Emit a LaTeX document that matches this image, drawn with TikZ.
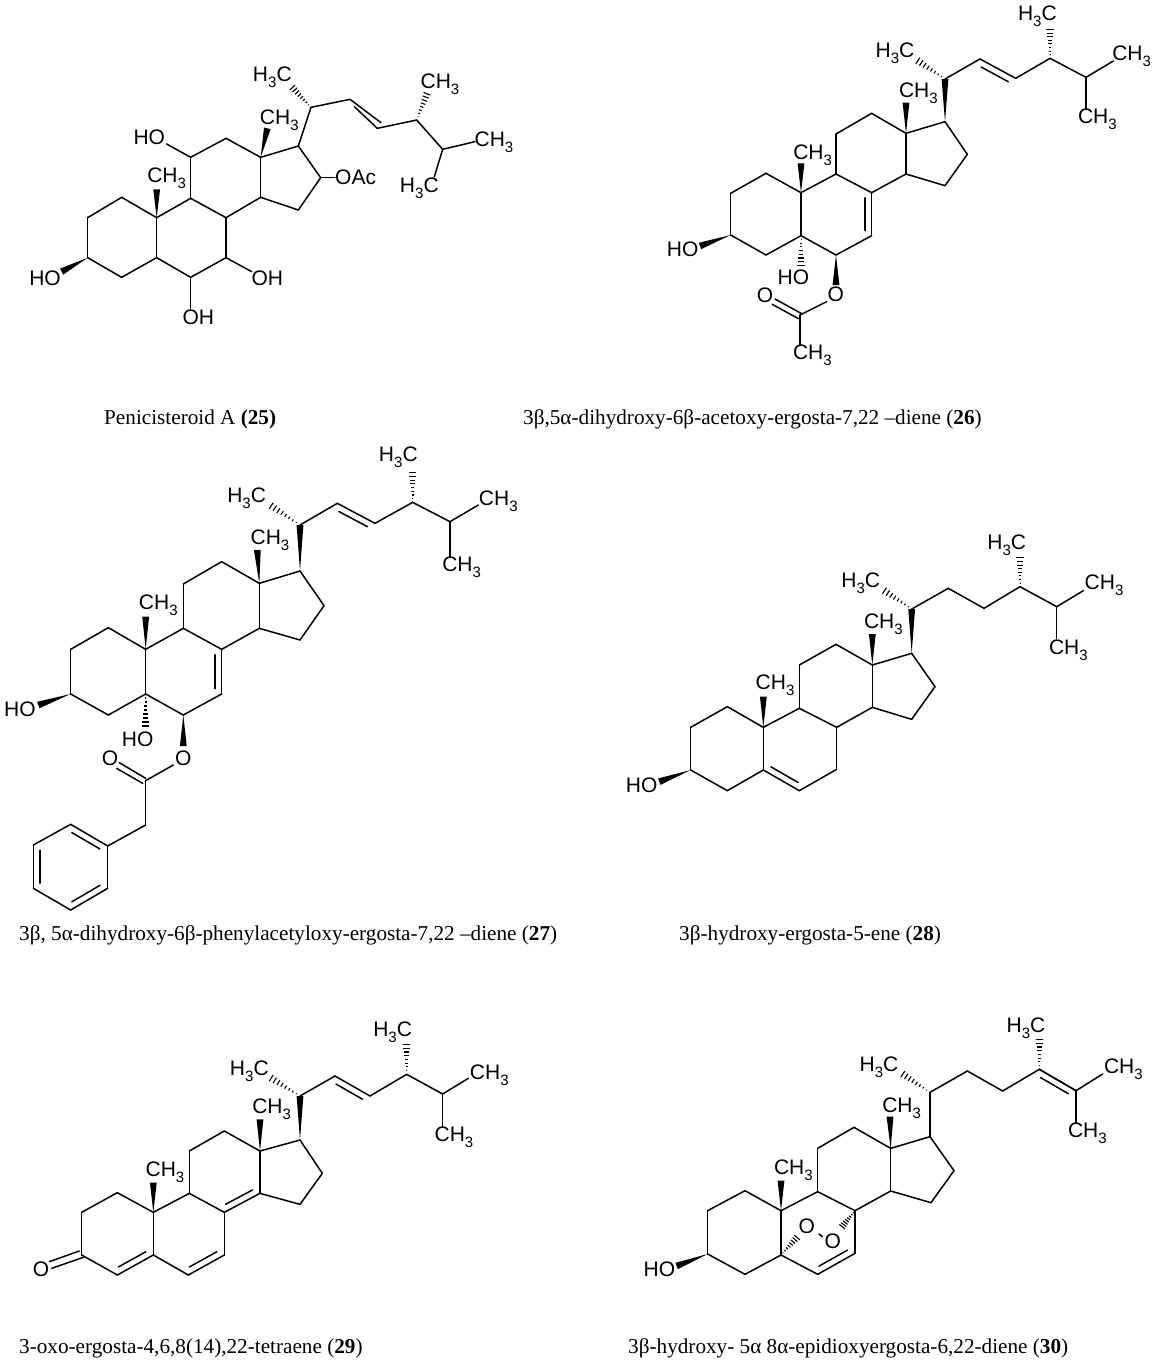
\documentclass[tikz,border=0pt]{standalone}
\usepackage{fontspec}
\setmainfont{Liberation Serif}
\newfontfamily\chemfont{Liberation Sans}
\usetikzlibrary{calc}
\newcommand\subthree{\raisebox{-.28em}{\fontsize{15}{15}\selectfont 3}}
\newcommand\cha{CH\subthree}
\newcommand\hac{H\subthree C}
\tikzset{
  bond/.style={draw=black,line width=1.5pt,line cap=round,line join=round},
  hashstroke/.style={draw=black,line width=1.1pt},
  chemlab/.style={inner sep=0pt,font=\chemfont\fontsize{21}{21}\selectfont,text=black},
  caption/.style={inner sep=0pt,anchor=west,font=\fontsize{21.2}{23}\selectfont,text=black},
  mol/.style={x=.33333pt,y=-.33333pt}
}
% atoms: name/x/y
\newcommand\atoms[1]{\foreach \n/\x/\y in {#1}{\coordinate (\n) at (\x,\y);}}
\newcommand\bonds[1]{\foreach \a/\b in {#1}{\draw[bond] (\a) -- (\b);}}
\newcommand\lab[4]{\node[chemlab] (#1) at (#2,#3) {#4};}
\newcommand\wedgeb[2]{\fill[black] (#1) -- ($(#2)!3.4pt!90:(#1)$) -- ($(#2)!3.4pt!-90:(#1)$) -- cycle;}
\newcommand\hashb[2]{\foreach \t in {.12,.24,.36,.48,.60,.72,.84,.96}{%
  \pgfmathsetmacro\w{\t*3.8}%
  \draw[hashstroke] ($(#1)!\t!(#2)!\w pt!90:(#2)$) -- ($(#1)!\t!(#2)!\w pt!-90:(#2)$);}}
% inner line of a double bond: a, b, side (90 = left of a->b)
\newcommand\dblin[3]{\draw[bond] ($(#1)!.12!(#2)!6.5pt!#3:(#2)$) -- ($(#1)!.88!(#2)!6.5pt!#3:(#2)$);}
\newcommand\skeleton{\bonds{c1/c2,c2/c3,c3/c4,c4/c5,c5/c10,c10/c1,c5/c6,c6/c7,c7/c8,c8/c9,c9/c10,c9/c11,c11/c12,c12/c13,c13/c14,c14/c8,c13/c17,c17/c16,c16/c15,c15/c14}
  \wedgeb{c10}{c19}\wedgeb{c13}{c18}}
\newcommand\tail{\bonds{c20/c22,c24/c25,c25/c26,c25/c27}\hashb{c20}{c21}\hashb{c24}{c28}}
\begin{document}
\begin{tikzpicture}[x=1pt,y=-1pt]
\useasboundingbox (0,0) rectangle (1158,1368);
\fill[white] (0,0) rectangle (1158,1368);

% ---------- 25
\begin{scope}[shift={(20,60)},mol,name prefix=a-]
\atoms{c2/203/473,c1/305/412,c10/410/473,c5/410/593,c4/305/652,c3/203/593,
 c9/512/415,c8/618/473,c7/618/593,c6/512/652,
 c11/512/292,c12/618/235,c13/722/292,c14/722/412,
 c17/835/258,c16/902/353,c15/835/450,
 c19/410/388,c18/742/205,c20/873/142,c21/815/80,c22/990/118,c23/1072/205,c24/1190/180,c28/1222/98,c25/1268/268,c26/1365/245,c27/1243/350,
 d1/1083/188,d2/1003/140,
 o3/125/635,o11/440/252,o6/512/745,o7/695/635,o16/945/353}
\skeleton
\bonds{c17/c20,c20/c22,c22/d1,d2/c23,c23/c24,c24/c25,c25/c26,c25/c27,c11/o11,c6/o6,c7/o7,c16/o16}
\hashb{c20}{c21}\hashb{c24}{c28}\wedgeb{c3}{o3}
\lab{l1}{440}{355}{\cha}\lab{l2}{778}{182}{\cha}\lab{l3}{757}{52}{\hac}\lab{l4}{1260}{72}{\cha}
\lab{l5}{1422}{248}{\cha}\lab{l6}{1198}{385}{\hac}\lab{l7}{388}{233}{HO}\lab{l8}{75}{655}{HO}
\lab{l9}{535}{772}{OH}\lab{l10}{742}{655}{OH}\lab{l11}{1007}{353}{OAc}
\end{scope}

% ---------- 26
\begin{scope}[shift={(660,0)},mol,name prefix=b-]
\atoms{c2/212/580,c1/318/520,c10/423/578,c5/423/707,c4/318/765,c3/212/705,
 c9/528/522,c8/635/578,c7/635/707,c6/528/765,
 c11/528/402,c12/635/340,c13/738/400,c14/738/522,
 c17/855/365,c16/922/463,c15/855/557,
 c19/423/490,c18/738/308,c20/855/237,c21/770/180,c22/960/177,c23/1067/235,c24/1170/175,c28/1170/85,c25/1278/232,c26/1360/183,c27/1278/325,
 o3/120/738,o5/423/800,o6/528/855,e1/500/905,e2/420/945,e3/420/1035,d1/345/897,d2/337/913,d3/425/941,d4/415/956}
\skeleton\tail
\bonds{c22/c23,c23/c24,e1/e2,e2/e3,d1/d3,d2/d4}
\dblin{c8}{c7}{-90}\dblin{c22}{c23}{-90}
\wedgeb{c17}{c20}\wedgeb{c3}{o3}\wedgeb{c6}{o6}\hashb{c5}{o5}
\lab{l1}{458}{465}{\cha}\lab{l2}{775}{280}{\cha}\lab{l3}{705}{160}{\hac}\lab{l4}{1132}{50}{\hac}
\lab{l5}{1415}{168}{\cha}\lab{l6}{1312}{357}{\cha}\lab{l7}{68}{748}{HO}\lab{l8}{400}{833}{HO}
\lab{l9}{527}{883}{O}\lab{l10}{315}{885}{O}\lab{l11}{457}{1067}{\cha}
\end{scope}

% ---------- 27
\begin{scope}[shift={(0,440)},mol,name prefix=c-]
\atoms{c2/212/628,c1/325/563,c10/437/628,c5/437/762,c4/325/825,c3/212/762,
 c9/550/565,c8/665/628,c7/665/762,c6/550/825,
 c11/550/432,c12/665/365,c13/778/430,c14/778/565,
 c17/900/393,c16/972/497,c15/900/600,
 c19/437/530,c18/772/330,c20/900/255,c21/810/195,c22/1012/190,c23/1125/250,c24/1238/187,c28/1238/95,c25/1350/245,c26/1435/195,c27/1350/350,
 o3/115/795,o5/437/862,o6/550/918,e1/520/975,e2/437/1022,e3/437/1155,
 d1/358/968,d2/350/985,d3/437/1015,d4/428/1030,
 p1/323/1218,p2/212/1153,p3/100/1215,p4/100/1345,p5/212/1410,p6/323/1345}
\skeleton\tail
\bonds{c22/c23,c23/c24,e1/e2,e2/e3,e3/p1,d1/d3,d2/d4,p1/p2,p2/p3,p3/p4,p4/p5,p5/p6,p6/p1}
\dblin{c8}{c7}{-90}\dblin{c22}{c23}{-90}
\dblin{p2}{p1}{-90}\dblin{p3}{p4}{90}\dblin{p5}{p6}{90}
\wedgeb{c17}{c20}\wedgeb{c3}{o3}\wedgeb{c6}{o6}\hashb{c5}{o5}
\lab{l1}{475}{497}{\cha}\lab{l2}{810}{300}{\cha}\lab{l3}{740}{175}{\hac}\lab{l4}{1195}{52}{\hac}
\lab{l5}{1495}{183}{\cha}\lab{l6}{1385}{383}{\cha}\lab{l7}{60}{808}{HO}\lab{l8}{413}{898}{HO}
\lab{l9}{550}{955}{O}\lab{l10}{330}{955}{O}
\end{scope}

% ---------- 28
\begin{scope}[shift={(620,520)},mol,name prefix=d-]
\atoms{c2/212/622,c1/322/560,c10/430/622,c5/430/750,c4/322/812,c3/212/750,
 c9/538/565,c8/650/622,c7/650/748,c6/538/812,
 c11/538/435,c12/648/373,c13/757/435,c14/757/562,
 c17/875/400,c16/945/500,c15/875/598,
 c19/430/530,c18/757/342,c20/875/267,c21/790/210,c22/985/205,c23/1092/265,c24/1200/200,c28/1200/110,c25/1310/260,c26/1390/212,c27/1310/355,
 o3/118/785}
\skeleton\tail
\bonds{c22/c23,c23/c24}
\dblin{c5}{c6}{90}
\wedgeb{c17}{c20}\wedgeb{c3}{o3}
\lab{l1}{465}{497}{\cha}\lab{l2}{790}{312}{\cha}\lab{l3}{722}{190}{\hac}\lab{l4}{1160}{75}{\hac}
\lab{l5}{1452}{195}{\cha}\lab{l6}{1345}{392}{\cha}\lab{l7}{65}{797}{HO}
\end{scope}

% ---------- 29
\begin{scope}[shift={(20,1020)},mol,name prefix=e-]
\atoms{c2/185/577,c1/292/518,c10/400/577,c5/400/705,c4/292/765,c3/185/705,
 c9/508/520,c8/613/577,c7/613/705,c6/505/765,
 c11/508/393,c12/613/333,c13/720/393,c14/720/520,
 c17/840/360,c16/907/460,c15/840/553,
 c19/400/488,c18/720/298,c20/840/228,c21/750/172,c22/945/168,c23/1050/228,c24/1160/163,c28/1160/70,c25/1268/222,c26/1345/175,c27/1268/320,
 d1/88/725,d2/178/693,d3/95/745,d4/190/712}
\skeleton\tail
\bonds{c22/c23,c23/c24,d1/d2,d3/d4}
\dblin{c4}{c5}{90}\dblin{c6}{c7}{90}\dblin{c8}{c14}{90}\dblin{c22}{c23}{-90}
\wedgeb{c17}{c20}
\lab{l1}{435}{458}{\cha}\lab{l2}{755}{268}{\cha}\lab{l3}{688}{155}{\hac}\lab{l4}{1118}{38}{\hac}
\lab{l5}{1408}{165}{\cha}\lab{l6}{1302}{352}{\cha}\lab{l7}{63}{748}{O}
\end{scope}

% ---------- 30
\begin{scope}[shift={(630,1020)},mol,name prefix=f-]
\atoms{c2/233/572,c1/345/512,c10/453/572,c5/453/705,c4/345/763,c3/233/702,
 c9/563/515,c8/675/572,c7/675/700,c6/563/763,
 c11/563/385,c12/672/322,c13/782/385,c14/782/513,
 c17/900/350,c16/972/452,c15/903/548,
 c19/453/482,c18/780/290,c20/900/217,c21/815/160,c22/1012/153,c23/1118/213,c24/1228/148,c28/1228/55,c25/1338/212,c26/1418/162,c27/1338/308,
 o3/140/738,o5/503/650,o8/635/622,q1/567/642,q2/577/650}
\skeleton\tail
\bonds{c17/c20,c22/c23,c23/c24,c24/c25,q1/q2}
\dblin{c6}{c7}{90}\dblin{c24}{c25}{-90}
\wedgeb{c3}{o3}\hashb{c5}{o5}\hashb{c8}{o8}
\lab{l1}{490}{450}{\cha}\lab{l2}{815}{265}{\cha}\lab{l3}{747}{142}{\hac}\lab{l4}{1188}{25}{\hac}
\lab{l5}{1480}{147}{\cha}\lab{l6}{1372}{340}{\cha}\lab{l7}{88}{748}{HO}
\lab{l8}{530}{620}{O}\lab{l9}{608}{665}{O}
\end{scope}

% ---------- captions
\node[caption] (cap25) at (104,419) {Penicisteroid A \textbf{(25)}};
\node[caption] (cap26) at (523,419) {3β,5α-dihydroxy-6β-acetoxy-ergosta-7,22 –diene (\textbf{26})};
\node[caption] (cap27) at (19,935) {3β, 5α-dihydroxy-6β-phenylacetyloxy-ergosta-7,22 –diene (\textbf{27})};
\node[caption] (cap28) at (679,935) {3β-hydroxy-ergosta-5-ene (\textbf{28})};
\node[caption] (cap29) at (19,1348) {3-oxo-ergosta-4,6,8(14),22-tetraene (\textbf{29})};
\node[caption] (cap30) at (628,1348) {3β-hydroxy- 5α 8α-epidioxyergosta-6,22-diene (\textbf{30})};
\end{tikzpicture}
\end{document}
